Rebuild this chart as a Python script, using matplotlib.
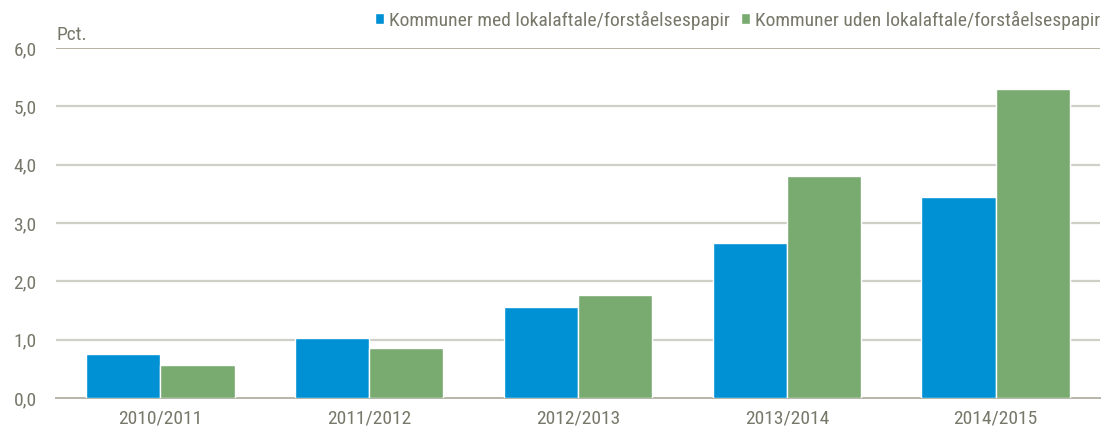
import matplotlib
matplotlib.use("Agg")
import matplotlib.pyplot as plt
import numpy as np

seasons = ["2010/2011", "2011/2012", "2012/2013", "2013/2014", "2014/2015"]
med_aftale = [0.76, 1.03, 1.56, 2.66, 3.44]
uden_aftale = [0.57, 0.85, 1.76, 3.81, 5.30]
labels = ["Kommuner med lokalaftale/forståelsespapir",
          "Kommuner uden lokalaftale/forståelsespapir"]
yticks = [0, 1, 2, 3, 4, 5, 6]

blue = "#0090d4"
green = "#79aa70"
txt = "#77776a"

plt.rcParams['font.family'] = ['Roboto Condensed', 'DejaVu Sans']

fig = plt.figure(figsize=(11.07, 4.34), dpi=100)
ax = fig.add_axes([56 / 1107, 36 / 434, 1044 / 1107, 350 / 434])

x = np.arange(len(seasons))
w = 0.355
ax.bar(x - w / 2, med_aftale, w, color=blue, edgecolor="white", linewidth=1, label=labels[0], zorder=3)
ax.bar(x + w / 2, uden_aftale, w, color=green, edgecolor="white", linewidth=1, label=labels[1], zorder=3)

ax.set_xlim(-0.5, len(seasons) - 0.5)
ax.set_ylim(0, 6)
ax.set_yticks(yticks)
ax.set_yticklabels([f"{v:.1f}".replace(".", ",") for v in yticks])
ax.set_xticks(x)
ax.set_xticklabels(seasons)

for v in yticks[1:-1]:
    ax.axhline(v, color="#d0cfc8", linewidth=1.6, zorder=1)
ax.axhline(6, color="#b8b2a4", linewidth=1.4, zorder=1)

for s in ["top", "right", "left"]:
    ax.spines[s].set_visible(False)
ax.spines["bottom"].set_color("#b8b5a8")
ax.spines["bottom"].set_linewidth(1.4)
ax.tick_params(axis="both", length=0, labelsize=14, colors=txt)
ax.tick_params(axis="y", pad=14)
ax.tick_params(axis="x", pad=8)

ax.text(0, 1.012, "Pct.", transform=ax.transAxes, fontsize=14, color=txt, va="bottom", ha="left")

leg = ax.legend(loc="center right", bbox_to_anchor=(1.0, 1.08), ncol=2, frameon=False,
                fontsize=14, handlelength=0.45, handleheight=0.45, handletextpad=0.25,
                columnspacing=0.6, borderaxespad=0, borderpad=0)
for t in leg.get_texts():
    t.set_color(txt)

fig.savefig("out.png", dpi=100)
